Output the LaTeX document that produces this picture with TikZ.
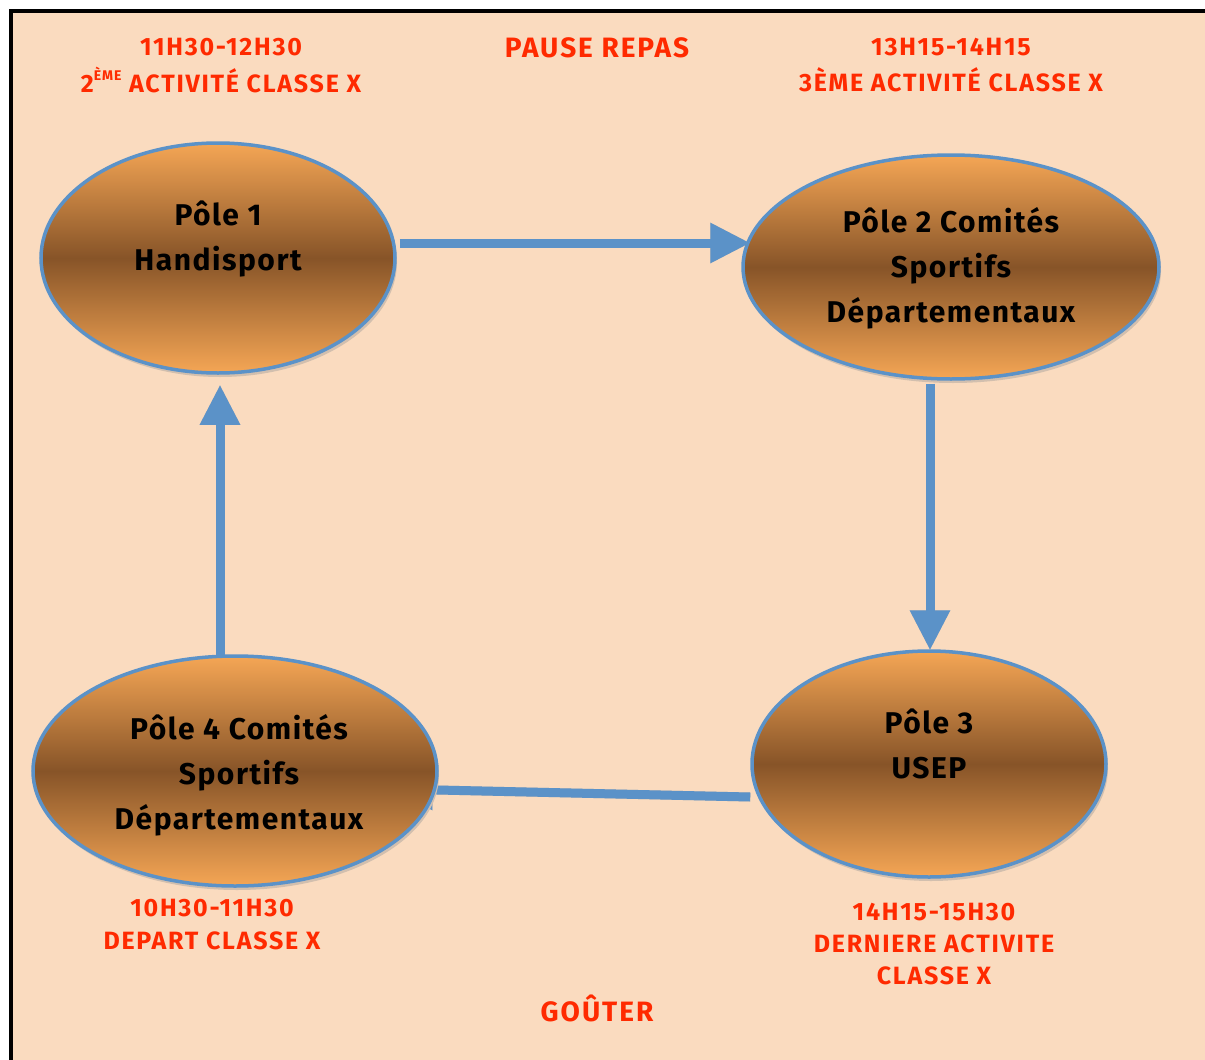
\documentclass[tikz,border=0pt]{standalone}
\usepackage{fontspec}
\setmainfont{Fira Sans}
\newfontfamily\polefont[LetterSpace=5]{Fira Sans}
\newfontfamily\lblfont[LetterSpace=7]{Fira Sans}
\usetikzlibrary{arrows.meta,calc,backgrounds,shapes.geometric,shadows}
\definecolor{peach}{HTML}{FADBBF}
\definecolor{lblred}{HTML}{FF2A00}
\definecolor{arrblue}{HTML}{5B92C8}
\definecolor{orL}{HTML}{F5A655}
\definecolor{brD}{HTML}{875428}
\definecolor{shad}{HTML}{D2BFAE}
\tikzset{
  pole/.style={ellipse, draw=arrblue, line width=3.5pt, top color=orL, bottom color=orL, middle color=brD, inner sep=0pt,
    drop shadow={shadow xshift=2pt, shadow yshift=-4pt, fill=shad, opacity=1}},
  poletext/.style={align=center, font=\polefont\fontsize{30}{45}\selectfont\bfseries, text=black},
  lbl/.style={text=lblred, font=\lblfont\fontsize{25}{33}\selectfont\bfseries, align=center},
  biglbl/.style={lbl, font=\lblfont\fontsize{28}{33}\selectfont\bfseries},
  arr/.style={draw=arrblue, line width=9pt, -{Triangle[length=40pt,width=38pt]}},
  arrshadow/.style={draw=shad, line width=9pt, -{Triangle[length=40pt,width=38pt]}},
}
\begin{document}
\begin{tikzpicture}[x=1pt,y=-1pt]
\useasboundingbox (0,0) rectangle (1205,1060);

% ellipses
\node[pole, minimum width=354pt, minimum height=230pt] (e1) at (218,258) {};
\node[pole, minimum width=416pt, minimum height=224pt] (e2) at (951,267) {};
\node[pole, minimum width=354pt, minimum height=226pt] (e3) at (929,764) {};
\node[pole, minimum width=404pt, minimum height=230pt] (e4) at (235,771) {};

% texts in ellipses
\node[poletext] (t1) at (218,239) {Pôle 1\\Handisport};
\node[poletext] (t2) at (951,268) {Pôle 2 Comités\\Sportifs\\Départementaux};
\node[poletext] (t3) at (929,744) {Pôle 3\\USEP};
\node[poletext] (t4) at (239,775) {Pôle 4 Comités\\Sportifs\\Départementaux};

% coordinates for connector ends
\coordinate (a1s) at ($(e1.east)+(3,-15)$);
\coordinate (a1e) at ($(e2.west)+(9,-24)$);
\coordinate (a2s) at ($(e2.south -| e3.north)+(1,3)$);
\coordinate (a2e) at ($(e3.north)+(1,1)$);
\coordinate (a3s) at ($(e3.west)+(0,33)$);
\coordinate (a3e) at ($(e4.east)+(-46,18)$);
\coordinate (a4s) at ($(e4.north -| e1.south)+(2,1)$);
\coordinate (a4e) at ($(e1.south)+(2,10)$);

\begin{scope}[on background layer]
  \fill[white] (0,0) rectangle (1205,1060);
  \draw[line width=4pt, fill=peach] (11,11) rectangle (1220,1080);
  \begin{scope}[shift={(3,5)}]
    \draw[arrshadow] (a1s) -- (a1e);
    \draw[arrshadow] (a2s) -- (a2e);
    \draw[arrshadow] (a3s) -- (a3e);
    \draw[arrshadow] (a4s) -- (a4e);
  \end{scope}
  \draw[arr] (a3s) -- (a3e);
\end{scope}

\draw[arr] (a1s) -- (a1e);
\draw[arr] (a2s) -- (a2e);
\draw[arr] (a4s) -- (a4e);

% labels
\node[lbl] (l1a) at (221,47) {11H30-12H30};
\node[lbl] (l1b) at (221,80) {2\raisebox{0.45em}{\fontsize{14}{14}\selectfont ÈME} ACTIVITÉ CLASSE X};
\node[biglbl] (lp) at (597,48) {PAUSE REPAS};
\node[lbl] (l2a) at (951,47) {13H15-14H15};
\node[lbl] (l2b) at (951,80) {3ÈME ACTIVITÉ CLASSE X};
\node[lbl] (l4a) at (212,908) {10H30-11H30};
\node[lbl] (l4b) at (212,941) {DEPART CLASSE X};
\node[lbl] (l3a) at (934,912) {14H15-15H30};
\node[lbl] (l3b) at (934,944) {DERNIERE ACTIVITE};
\node[lbl] (l3c) at (934,976) {CLASSE X};
\node[biglbl] (lg) at (597,1008) {GOÛTER};
\end{tikzpicture}
\end{document}
